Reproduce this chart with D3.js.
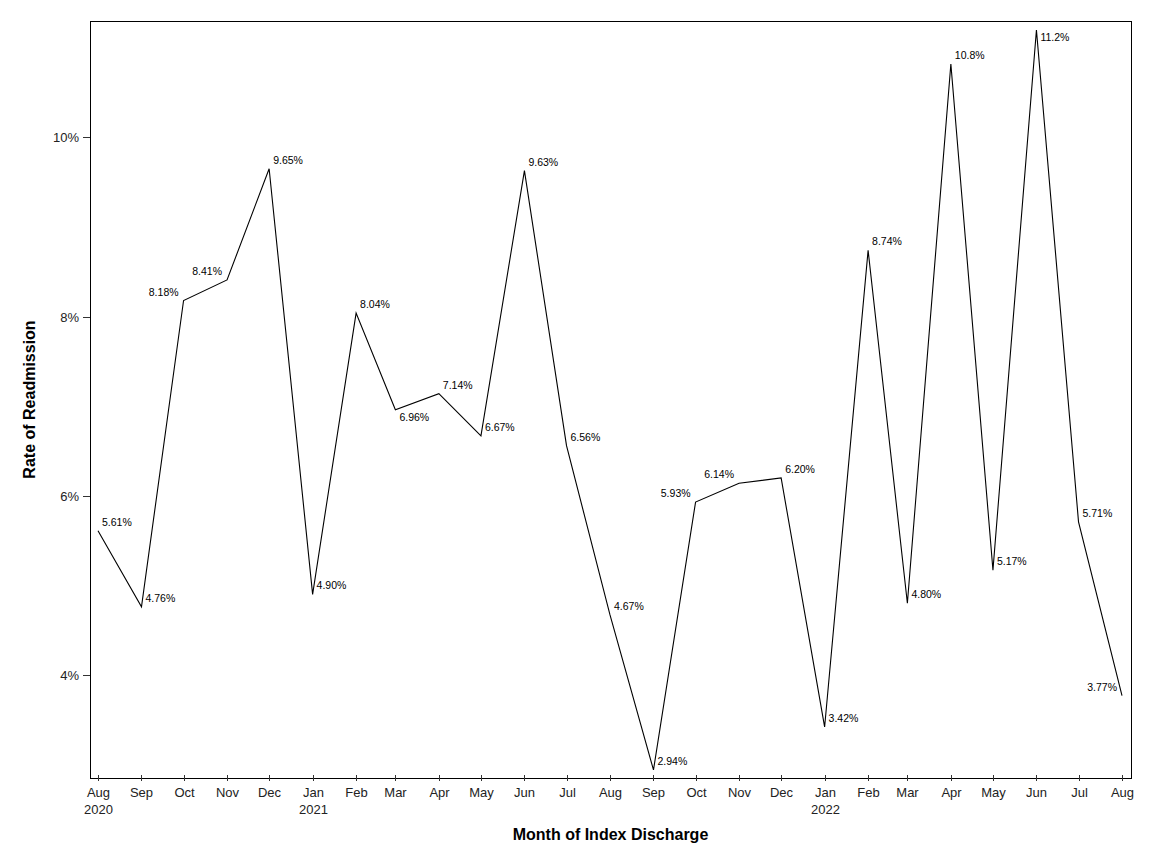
<!DOCTYPE html>
<html>
<head>
<meta charset="utf-8">
<script src="https://cdn.jsdelivr.net/npm/d3@7"></script>
<style>
  body { margin: 0; background: #fff; }
  svg { display: block; font-family: "Liberation Sans", Arial, sans-serif; }
</style>
</head>
<body>
<div id="chart"></div>
<script>
// Monthly readmission rate (%), Aug 2020 .. Aug 2022
const months = ["2020-08","2020-09","2020-10","2020-11","2020-12",
                "2021-01","2021-02","2021-03","2021-04","2021-05","2021-06",
                "2021-07","2021-08","2021-09","2021-10","2021-11","2021-12",
                "2022-01","2022-02","2022-03","2022-04","2022-05","2022-06",
                "2022-07","2022-08"];
const rates = [5.61, 4.76, 8.18, 8.41, 9.65, 4.90, 8.04, 6.96, 7.14, 6.67, 9.63,
               6.56, 4.67, 2.94, 5.93, 6.14, 6.20, 3.42, 8.74, 4.80, 10.82, 5.17,
               11.2, 5.71, 3.77];
// which side of the point each value label sits on
const labelSide = ["ne","ne","nw","nw","ne","ne","ne","se","ne","ne","ne",
                   "ne","ne","ne","nw","nw","ne","ne","ne","ne","ne","ne",
                   "se","ne","nw"];
const yTicks = [4, 6, 8, 10];

const width = 1152, height = 864;
const frame = {left: 90, right: 1131, top: 21, bottom: 778};

const parse = d3.timeParse("%Y-%m");
const data = months.map((m, i) => ({date: parse(m), value: rates[i], side: labelSide[i]}));

const svg = d3.select("#chart").append("svg")
    .attr("width", width)
    .attr("height", height);

const x = d3.scaleTime()
    .domain(d3.extent(data, d => d.date))
    .range([98, 1122]);

const y = d3.scaleLinear()
    .domain([2.85, 11.3])
    .range([frame.bottom, frame.top]);

// plot frame
svg.append("rect")
    .attr("x", frame.left + 0.5)
    .attr("y", frame.top + 0.5)
    .attr("width", frame.right - frame.left)
    .attr("height", frame.bottom - frame.top)
    .attr("fill", "none")
    .attr("stroke", "#000")
    .attr("stroke-width", 1);

// y axis ticks + labels
const yAxis = svg.append("g");
yTicks.forEach(t => {
    const yy = Math.round(y(t)) + 0.5;
    yAxis.append("line")
        .attr("x1", frame.left - 7).attr("x2", frame.left)
        .attr("y1", yy).attr("y2", yy)
        .attr("stroke", "#333");
    yAxis.append("text")
        .attr("x", frame.left - 11)
        .attr("y", yy)
        .attr("dy", "0.35em")
        .attr("text-anchor", "end")
        .attr("font-size", 13)
        .attr("fill", "#222")
        .text(t + "%");
});

// x axis ticks + labels
const xAxis = svg.append("g");
data.forEach(d => {
    const xx = Math.round(x(d.date)) + 0.5;
    xAxis.append("line")
        .attr("x1", xx).attr("x2", xx)
        .attr("y1", frame.bottom - 3).attr("y2", frame.bottom + 3)
        .attr("stroke", "#333");
    xAxis.append("text")
        .attr("x", xx)
        .attr("y", 797)
        .attr("text-anchor", "middle")
        .attr("font-size", 13)
        .attr("fill", "#222")
        .text(d3.timeFormat("%b")(d.date));
    // year under the first tick and every January
    if (d === data[0] || d.date.getMonth() === 0) {
        xAxis.append("text")
            .attr("x", xx)
            .attr("y", 813.5)
            .attr("text-anchor", "middle")
            .attr("font-size", 13)
            .attr("fill", "#222")
            .text(d.date.getFullYear());
    }
});

// axis titles
svg.append("text")
    .attr("x", (frame.left + frame.right) / 2)
    .attr("y", 840)
    .attr("text-anchor", "middle")
    .attr("font-size", 16)
    .attr("font-weight", "bold")
    .text("Month of Index Discharge");

svg.append("text")
    .attr("transform", `translate(35,${(frame.top + frame.bottom) / 2}) rotate(-90)`)
    .attr("text-anchor", "middle")
    .attr("font-size", 16)
    .attr("font-weight", "bold")
    .text("Rate of Readmission");

// the series line
const line = d3.line()
    .x(d => x(d.date))
    .y(d => y(d.value));

svg.append("path")
    .datum(data)
    .attr("d", line)
    .attr("fill", "none")
    .attr("stroke", "#000")
    .attr("stroke-width", 1.1);

// value labels
const fmt = d3.format(".3r");
svg.append("g")
    .selectAll("text")
    .data(data)
    .enter().append("text")
    .attr("font-size", 10.5)
    .attr("fill", "#000")
    .attr("text-anchor", d => d.side === "nw" ? "end" : "start")
    .attr("x", d => d.side === "nw" ? x(d.date) - 5 : x(d.date) + 4)
    .attr("y", d => d.side === "se" ? y(d.value) + 11 : y(d.value) - 5)
    .text(d => fmt(d.value) + "%");
</script>
</body>
</html>
